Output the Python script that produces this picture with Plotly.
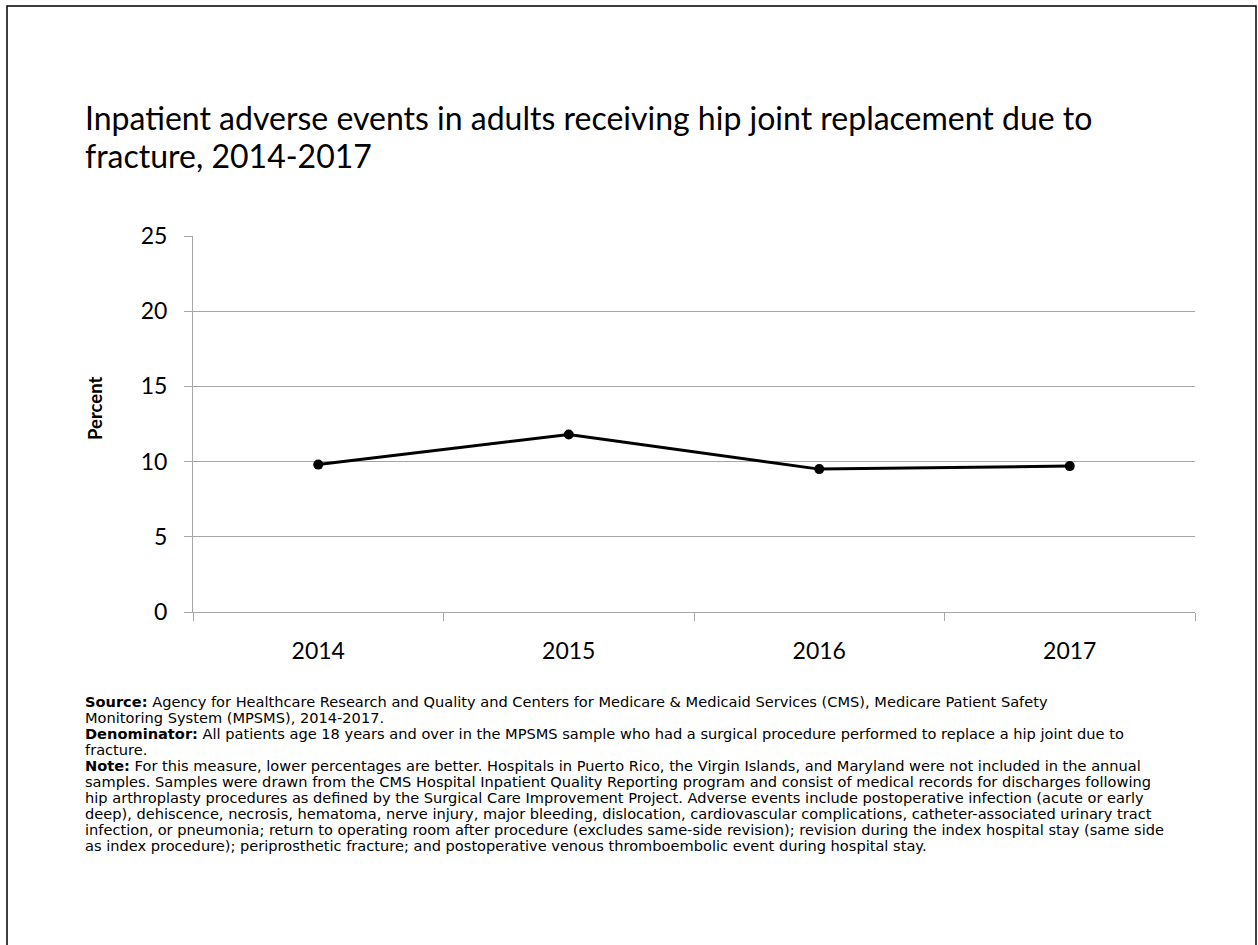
import plotly.graph_objects as go

# Data
years = ["2014", "2015", "2016", "2017"]
percent = [9.8, 11.8, 9.5, 9.7]
y_ticks = [0, 5, 10, 15, 20, 25]

title_lines = [
    "Inpatient adverse events in adults receiving hip joint replacement due to",
    "fracture, 2014-2017",
]
footnote_lines = [
    "<b>Source:</b> Agency for Healthcare Research and Quality and Centers for Medicare &amp; Medicaid Services (CMS), Medicare Patient Safety",
    "Monitoring System (MPSMS), 2014-2017.",
    "<b>Denominator:</b> All patients age 18 years and over in the MPSMS sample who had a surgical procedure performed to replace a hip joint due to",
    "fracture.",
    "<b>Note:</b> For this measure, lower percentages are better. Hospitals in Puerto Rico, the Virgin Islands, and Maryland were not included in the annual",
    "samples. Samples were drawn from the CMS Hospital Inpatient Quality Reporting program and consist of medical records for discharges following",
    "hip arthroplasty procedures as defined by the Surgical Care Improvement Project. Adverse events include postoperative infection (acute or early",
    "deep), dehiscence, necrosis, hematoma, nerve injury, major bleeding, dislocation, cardiovascular complications, catheter-associated urinary tract",
    "infection, or pneumonia; return to operating room after procedure (excludes same-side revision); revision during the index hospital stay (same side",
    "as index procedure); periprosthetic fracture; and postoperative venous thromboembolic event during hospital stay.",
]

# Page geometry (pixels)
W, H = 1258, 945
L, R, T, B = 193, 63, 236, 333
PW, PH = W - L - R, H - T - B


def px_x(px):
    return (px - L) / PW


def px_y(py):
    return (H - B - py) / PH


GRID = "#a6a6a6"
MAIN_FONT = "Lato, Open Sans, sans-serif"
NOTE_FONT = "DejaVu Sans, Liberation Sans, sans-serif"

fig = go.Figure()
fig.add_trace(go.Scatter(
    x=years, y=percent, mode="lines+markers",
    line=dict(color="black", width=3),
    marker=dict(color="black", size=10, symbol="circle"),
    showlegend=False, hoverinfo="x+y",
))

annotations = []
for i, line in enumerate(title_lines):
    annotations.append(dict(
        text=line, xref="paper", yref="paper",
        x=px_x(83), y=px_y(117 + 38 * i), xanchor="left", yanchor="middle",
        showarrow=False, font=dict(family=MAIN_FONT, size=32, color="black"),
    ))
for i, line in enumerate(footnote_lines):
    annotations.append(dict(
        text=line, xref="paper", yref="paper",
        x=px_x(83), y=px_y(701 + 16.1 * i), xanchor="left", yanchor="middle",
        showarrow=False, font=dict(family=NOTE_FONT, size=14.6, color="black"),
    ))
# Vertical axis label
annotations.append(dict(
    text="<b>Percent</b>", xref="paper", yref="paper",
    x=px_x(95), y=px_y(409), xanchor="center", yanchor="middle",
    textangle=-90, showarrow=False,
    font=dict(family=MAIN_FONT, size=18.5, color="black"),
))

fig.update_layout(
    width=W, height=H,
    margin=dict(l=L, r=R, t=T, b=B, autoexpand=False),
    paper_bgcolor="white", plot_bgcolor="white",
    annotations=annotations,
    shapes=[dict(
        type="rect", xref="paper", yref="paper",
        x0=px_x(7), x1=px_x(1256), y0=px_y(960), y1=px_y(6),
        line=dict(color="black", width=1.5), fillcolor="rgba(0,0,0,0)",
        layer="below",
    )],
    xaxis=dict(
        type="category", range=[-0.5, len(years) - 0.5], tickson="boundaries",
        ticks="outside", ticklen=8, tickcolor=GRID, tickwidth=1,
        showgrid=False, showline=True, linecolor=GRID, linewidth=1,
        zeroline=False, ticklabelstandoff=18,
        tickfont=dict(family=MAIN_FONT, size=23, color="black"),
    ),
    yaxis=dict(
        range=[0, 25], tickvals=y_ticks,
        ticks="outside", ticklen=8, tickcolor=GRID, tickwidth=1,
        showgrid=True, gridcolor=GRID, gridwidth=1,
        showline=True, linecolor=GRID, linewidth=1, zeroline=False,
        ticklabelstandoff=12,
        tickfont=dict(family=MAIN_FONT, size=23, color="black"),
    ),
)

fig.write_html("out.html")
